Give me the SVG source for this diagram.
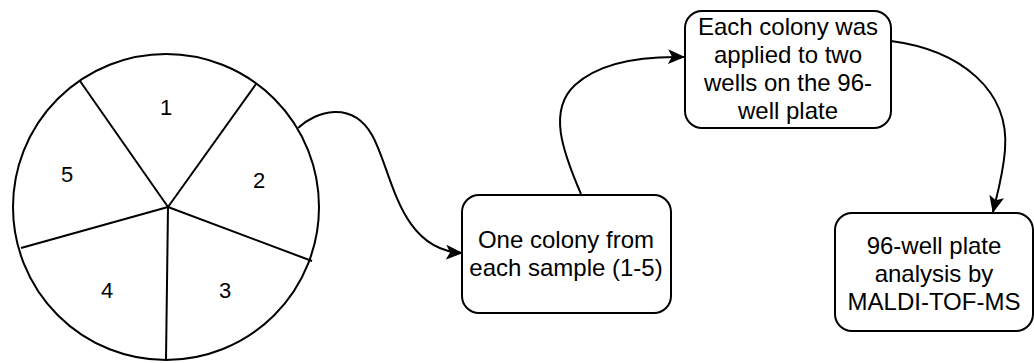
<svg xmlns="http://www.w3.org/2000/svg" width="1034" height="363" viewBox="0 0 1034 363">
<style>
.s{fill:none;stroke:#000;stroke-width:2}
.b{fill:#fff;stroke:#000;stroke-width:2}
.t{font-family:"Liberation Sans",Arial,sans-serif;font-size:24px;fill:#000;text-anchor:middle}
.n{font-family:"Liberation Sans",Arial,sans-serif;font-size:22px;fill:#000;text-anchor:middle}
</style>
<defs>
<marker id="arr" markerUnits="userSpaceOnUse" markerWidth="17" markerHeight="15" refX="16" refY="7.5" orient="auto" viewBox="0 0 17 15">
<path d="M0,0 L17,7.5 L0,15 L4,7.5 z" fill="#000"/>
</marker>
</defs>
<g id="plate">
<circle class="b" cx="166" cy="207" r="153"/>
<line class="s" x1="168" y1="207" x2="80" y2="81"/>
<line class="s" x1="168" y1="207" x2="256" y2="84"/>
<line class="s" x1="168" y1="207" x2="312" y2="261"/>
<line class="s" x1="168" y1="207" x2="166" y2="360"/>
<line class="s" x1="168" y1="207" x2="21" y2="248"/>
<text class="n" x="166" y="115">1</text>
<text class="n" x="259" y="188">2</text>
<text class="n" x="225" y="298">3</text>
<text class="n" x="107" y="298">4</text>
<text class="n" x="67" y="182">5</text>
</g>
<g id="connectors">
<path class="s" d="M298,128 C316,111 352,100 372,135 C392,170 398,250 462,253" marker-end="url(#arr)"/>
<path class="s" d="M581,194 C562,150 548,110 575,85 C600,62 640,56 684,57" marker-end="url(#arr)"/>
<path class="s" d="M891,41 C960,50 1010,90 1005,150 C1003,175 997,195 993,212" marker-end="url(#arr)"/>
</g>
<g id="colony">
<rect class="b" x="462" y="195" width="209" height="118" rx="17"/>
<text class="t" x="566" y="248">One colony from</text>
<text class="t" x="566" y="276">each sample (1-5)</text>
</g>
<g id="wells">
<rect class="b" x="685" y="11" width="206" height="117" rx="17"/>
<text class="t" x="788" y="35">Each colony was</text>
<text class="t" x="788" y="63">applied to two</text>
<text class="t" x="788" y="91">wells on the 96-</text>
<text class="t" x="788" y="119">well plate</text>
</g>
<g id="analysis">
<rect class="b" x="835" y="213" width="198" height="118" rx="17"/>
<text class="t" x="934" y="254">96-well plate</text>
<text class="t" x="934" y="282">analysis by</text>
<text class="t" x="934" y="310">MALDI-TOF-MS</text>
</g>
</svg>
